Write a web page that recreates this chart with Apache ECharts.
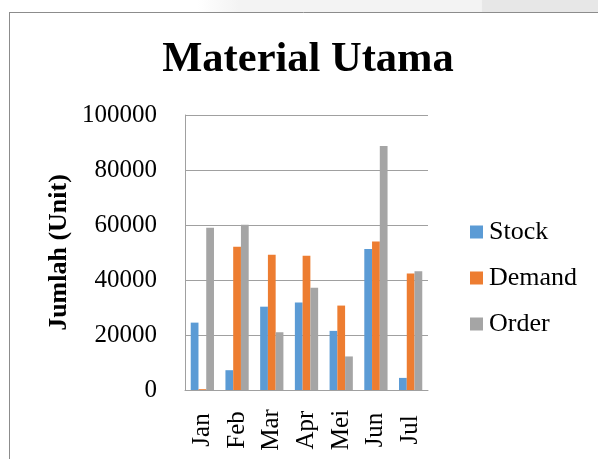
<!DOCTYPE html>
<html>
<head>
<meta charset="utf-8">
<script src="https://cdn.jsdelivr.net/npm/echarts@6/dist/echarts.min.js"></script>
<style>
html,body{margin:0;padding:0;background:#fff;}
#chart{width:598px;height:459px;}
</style>
</head>
<body>
<div id="chart"></div>
<script>
const chartTitle = 'Material Utama';
const yAxisName = 'Jumlah (Unit)';
const categories = ['Jan', 'Feb', 'Mar', 'Apr', 'Mei', 'Jun', 'Jul'];
const seriesNames = ['Stock', 'Demand', 'Order'];
const stockValues = [24500, 7200, 30300, 31800, 21500, 51300, 4400];
const demandValues = [300, 52100, 49200, 48800, 30700, 54000, 42400];
const orderValues = [59000, 60100, 21000, 37200, 12200, 88700, 43200];
const yTicks = { min: 0, max: 100000, interval: 20000 };
const colors = ['#5B9BD5', '#ED7D31', '#A5A5A5'];

const serif = "'Times New Roman', 'Liberation Serif', serif";
const chart = echarts.init(document.getElementById('chart'));
const allValues = [stockValues, demandValues, orderValues];

chart.setOption({
  animation: false,
  backgroundColor: '#ffffff',
  color: colors,
  graphic: [
    {
      type: 'rect', shape: { x: 0, y: 0, width: 598, height: 12 }, silent: true,
      style: {
        fill: new echarts.graphic.LinearGradient(0, 0, 1, 0, [
          { offset: 0, color: '#ffffff' },
          { offset: 0.33, color: '#ffffff' },
          { offset: 0.40, color: '#f3f3f3' },
          { offset: 0.805, color: '#f3f3f3' },
          { offset: 0.807, color: '#e7e7e7' },
          { offset: 1, color: '#e7e7e7' }
        ])
      }
    },
    { type: 'line', shape: { x1: 9, y1: 12.5, x2: 598, y2: 12.5 }, style: { stroke: '#8c8c8c', lineWidth: 1 }, silent: true },
    { type: 'line', shape: { x1: 9.5, y1: 12, x2: 9.5, y2: 459 }, style: { stroke: '#8c8c8c', lineWidth: 1 }, silent: true },
    {
      type: 'text', x: 308, y: 60, silent: true,
      style: { text: chartTitle, font: 'bold 42.5px ' + serif, fill: '#000', align: 'center', verticalAlign: 'middle' }
    }
  ],
  legend: {
    orient: 'vertical',
    left: 470,
    top: 219,
    padding: 0,
    itemWidth: 13,
    itemHeight: 13,
    itemGap: 20,
    icon: 'rect',
    textStyle: { fontFamily: serif, fontSize: 26, color: '#000', lineHeight: 25, padding: [0, 0, 0, 1] },
    data: seriesNames
  },
  grid: { left: 185, top: 115, right: 170, bottom: 69, containLabel: false },
  xAxis: {
    type: 'category',
    data: categories,
    axisLine: { lineStyle: { color: '#a0a0a0' } },
    axisTick: { show: false },
    axisLabel: { rotate: 90, align: 'center', margin: 40, fontFamily: serif, fontSize: 25, color: '#000', interval: 0 }
  },
  yAxis: {
    type: 'value',
    min: yTicks.min, max: yTicks.max, interval: yTicks.interval,
    name: yAxisName,
    nameLocation: 'middle',
    nameGap: 113,
    nameTextStyle: { fontFamily: serif, fontSize: 26, fontWeight: 'bold', color: '#000' },
    axisLine: { show: true, lineStyle: { color: '#a0a0a0' } },
    axisTick: { show: false },
    splitLine: { lineStyle: { color: '#a0a0a0' } },
    axisLabel: { margin: 28, fontFamily: serif, fontSize: 25, color: '#000', formatter: v => String(v) }
  },
  series: seriesNames.map((n, i) => ({
    name: n,
    type: 'bar',
    data: allValues[i],
    barGap: '0%',
    barCategoryGap: '33%'
  }))
});
</script>
</body>
</html>
